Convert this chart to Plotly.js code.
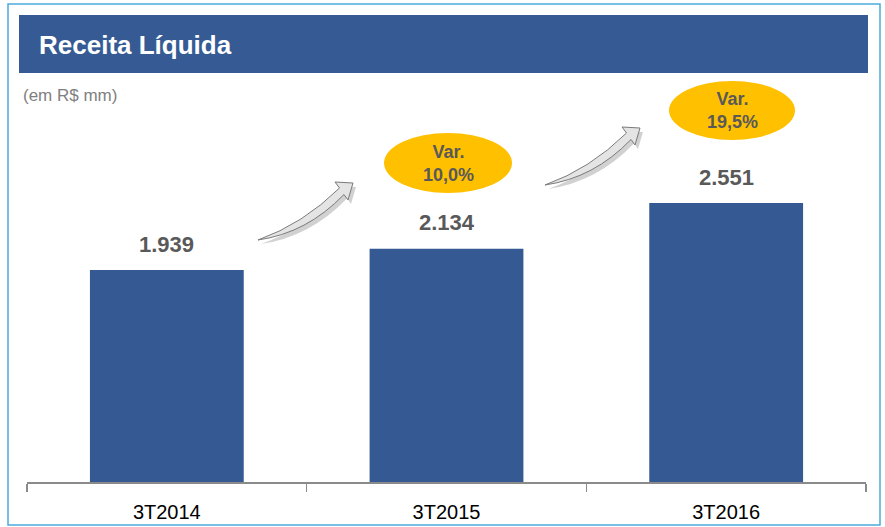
<!DOCTYPE html>
<html><head><meta charset="utf-8">
<script src="https://cdn.plot.ly/plotly-3.0.1.min.js"></script>
<style>html,body{margin:0;padding:0;background:#fff}#chart{width:885px;height:527px}</style>
</head><body><div id="chart"></div>
<script>
const categories = ["3T2014", "3T2015", "3T2016"];
const receita = [1939, 2134, 2551];
const variacao = [null, 10.0, 19.5];
const titleText = "Receita Líquida";
const unitText = "(em R$ mm)";

const W = 885, H = 527;
const M = {l: 27, r: 19, t: 100, b: 45};
const PW = W - M.l - M.r, PH = H - M.t - M.b;
const px = x => (x - M.l) / PW;
const py = y => (H - M.b - y) / PH;

const FONT = '"Liberation Sans", Arial, sans-serif';
const BLUE = '#355A93';
const GRAY = '#595959';

function fmt(v) {
  const t = Math.floor(v / 1000), r = v % 1000;
  return t > 0 ? t + '.' + String(r).padStart(3, '0') : String(r);
}
function fmtPct(p) { return p.toFixed(1).replace('.', ',') + '%'; }

// arrow path in pixel coords, translated
function arrowPath(dx, dy, ox, oy) {
  const pts = [
    ['M', 258, 240],
    ['Q', 303, 224, 339.5, 188],
    ['L', 335, 182],
    ['L', 353, 183],
    ['L', 348, 200],
    ['L', 344, 194.5],
    ['Q', 307, 233, 258, 240],
  ];
  let s = '';
  for (const p of pts) {
    s += p[0];
    for (let i = 1; i < p.length; i += 2) {
      s += ' ' + px(p[i] + dx + ox).toFixed(5) + ',' + py(p[i + 1] + dy + oy).toFixed(5);
    }
    s += ' ';
  }
  return s + 'Z';
}

const shapes = [];
const annotations = [];

// outer frame
shapes.push({type: 'rect', xref: 'paper', yref: 'paper', x0: px(8), x1: px(880), y0: py(4), y1: py(525),
  line: {color: '#4BAADB', width: 1.5}, fillcolor: 'rgba(0,0,0,0)', layer: 'below'});
// header band
shapes.push({type: 'rect', xref: 'paper', yref: 'paper', x0: px(19), x1: px(868), y0: py(15), y1: py(73),
  line: {width: 0}, fillcolor: '#365B94', layer: 'below'});

annotations.push({xref: 'paper', yref: 'paper', x: px(37), y: py(45), xanchor: 'left', yanchor: 'middle',
  text: '<b>' + titleText + '</b>', showarrow: false, font: {family: FONT, size: 26, color: '#ffffff'}});
annotations.push({xref: 'paper', yref: 'paper', x: px(21), y: py(95), xanchor: 'left', yanchor: 'middle',
  text: unitText, showarrow: false, font: {family: FONT, size: 17, color: '#808080'}});

// value labels
receita.forEach((v, i) => {
  annotations.push({x: categories[i], y: v, xref: 'x', yref: 'y', yanchor: 'middle', yshift: 26,
    text: '<b>' + fmt(v) + '</b>', showarrow: false, font: {family: FONT, size: 22, color: GRAY}});
});

// arrows and variation ellipses
const arrowOffsets = [[0, 0], [287, -55]];
const ellipses = [[384, 133, 512, 193], [669, 81, 795, 140]];
for (let k = 1; k < receita.length; k++) {
  const [dx, dy] = arrowOffsets[k - 1];
  shapes.push({type: 'path', xref: 'paper', yref: 'paper', path: arrowPath(dx, dy, 3, 4),
    fillcolor: 'rgba(0,0,0,0.18)', line: {width: 0}});
  shapes.push({type: 'path', xref: 'paper', yref: 'paper', path: arrowPath(dx, dy, 0, 0),
    fillcolor: '#e4e4e4', line: {color: '#7a7a7a', width: 1}});
  const e = ellipses[k - 1];
  shapes.push({type: 'circle', xref: 'paper', yref: 'paper', x0: px(e[0]), x1: px(e[2]), y0: py(e[1]), y1: py(e[3]),
    fillcolor: '#FFC000', line: {width: 0}});
  annotations.push({xref: 'paper', yref: 'paper', x: px((e[0] + e[2]) / 2), y: py((e[1] + e[3]) / 2),
    xanchor: 'center', yanchor: 'middle', align: 'center',
    text: '<b>Var.<br>' + fmtPct(variacao[k]) + '</b>', showarrow: false,
    font: {family: FONT, size: 18, color: GRAY}});
}

const data = [{
  type: 'bar', x: categories, y: receita,
  marker: {color: BLUE, line: {width: 0}},
  hoverinfo: 'skip'
}];

const layout = {
  width: W, height: H,
  margin: M,
  paper_bgcolor: '#ffffff', plot_bgcolor: '#ffffff',
  showlegend: false,
  bargap: 0.45,
  xaxis: {
    type: 'category', showline: true, linecolor: '#8a8a8a', linewidth: 1.5,
    ticks: 'outside', tickson: 'boundaries', ticklen: 8, tickcolor: '#8a8a8a', tickwidth: 1.5,
    showgrid: false, zeroline: false,
    tickfont: {family: FONT, size: 20, color: '#000000'},
    ticklabelstandoff: 11
  },
  yaxis: {visible: false, range: [0, PH / (212 / 1939)], showgrid: false, zeroline: false},
  shapes: shapes,
  annotations: annotations
};

Plotly.newPlot('chart', data, layout, {displayModeBar: false, staticPlot: true});
</script>
</body></html>
